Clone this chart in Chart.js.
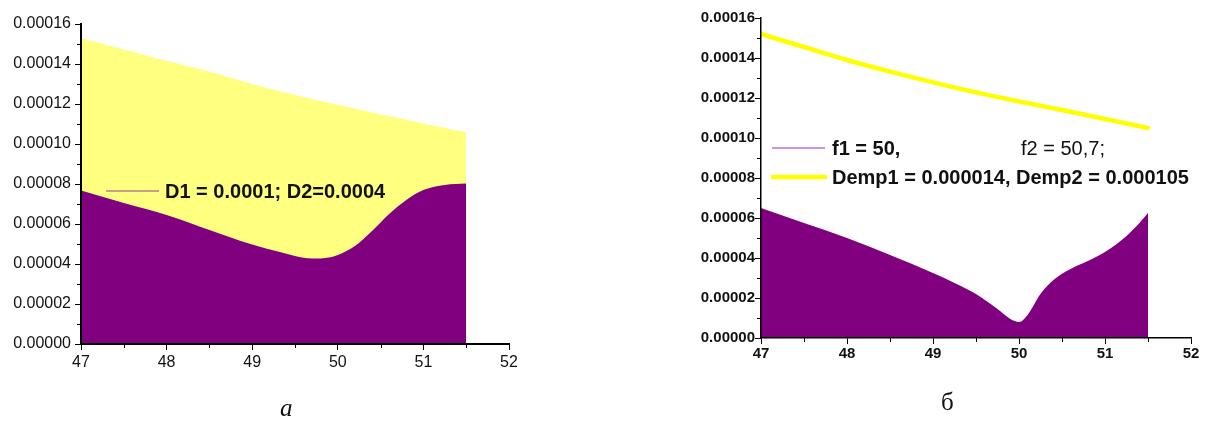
<!DOCTYPE html>
<html>
<head>
<meta charset="utf-8">
<script src="https://cdn.jsdelivr.net/npm/chart.js@4"></script>
<style>
  html, body { margin: 0; padding: 0; background: #ffffff; }
  body { width: 1213px; height: 421px; position: relative; overflow: hidden; }
  .panel { position: absolute; top: 0; height: 400px; }
  #wrapA { left: 0; width: 560px; }
  #wrapB { left: 600px; width: 613px; }
  .caption { position: absolute; font-family: "Liberation Serif", "DejaVu Serif", serif; font-size: 25px; color: #111; line-height: 1; }
  #capA { left: 280px; top: 395px; font-style: italic; }
  #capB { left: 941px; top: 389px; }
</style>
</head>
<body>
<div class="panel" id="wrapA"><canvas id="chartA" width="560" height="400"></canvas></div>
<div class="panel" id="wrapB"><canvas id="chartB" width="613" height="400"></canvas></div>
<div class="caption" id="capA">а</div>
<div class="caption" id="capB">б</div>
<script>
// ---- panel а : two filled profiles over the frequency range ----
const xA_upper = [47, 47.5, 48, 48.5, 49, 49.5, 50, 50.5, 51, 51.5];
const yA_upper = [0.0001530, 0.0001472, 0.0001416, 0.0001362, 0.0001300, 0.0001245, 0.0001196, 0.0001149, 0.0001103, 0.0001057];
const xA_lower = [47, 47.5, 48, 48.5, 49, 49.3, 49.5, 49.7, 49.9, 50.0, 50.2, 50.4, 50.6, 50.8, 51.0, 51.25, 51.5];
const yA_lower = [0.0000767, 0.0000705, 0.0000645, 0.0000570, 0.0000497, 0.0000462, 0.0000440, 0.0000427, 0.0000432, 0.0000445, 0.0000490, 0.0000565, 0.0000650, 0.0000720, 0.0000770, 0.0000795, 0.0000802];
const legendA = ["D1 = 0.0001; D2=0.0004"];

// ---- panel б : filled profile plus the Demp line ----
const xB_line = [47, 47.5, 48, 48.5, 49, 49.5, 50, 50.5, 51, 51.5];
const yB_line = [0.0001520, 0.0001455, 0.0001390, 0.0001332, 0.0001278, 0.0001228, 0.0001183, 0.0001140, 0.0001095, 0.0001050];
const xB_area = [47, 47.5, 48, 48.5, 49, 49.25, 49.5, 49.75, 49.9, 50.0, 50.1, 50.25, 50.4, 50.6, 50.8, 51.0, 51.25, 51.4, 51.5];
const yB_area = [0.0000650, 0.0000575, 0.0000500, 0.0000415, 0.0000325, 0.0000275, 0.0000220, 0.0000145, 0.0000095, 0.0000080, 0.0000115, 0.0000220, 0.0000290, 0.0000345, 0.0000385, 0.0000430, 0.0000510, 0.0000575, 0.0000625];
const legendB = ["f1 = 50,", "f2 = 50,7;", "Demp1 = 0.000014, Demp2 = 0.000105"];

// axis ranges and tick steps (shared by both panels)
const xRange = [47, 52];
const yRange = [0, 0.00016];
const xStep = 1;
const yStep = 0.00002;

const pts = (xs, ys) => xs.map((x, i) => ({ x: x, y: ys[i] }));

// short half-step ticks between the labelled ones
const minorTicks = {
  id: 'minorTicks',
  afterDraw(chart, args, opts) {
    const { ctx, chartArea: a, scales: { x, y } } = chart;
    ctx.save();
    ctx.strokeStyle = '#000';
    ctx.lineWidth = opts.width || 1;
    ctx.beginPath();
    for (let v = xRange[0] + xStep / 2; v < xRange[1]; v += xStep) {
      const px = Math.round(x.getPixelForValue(v)) + 0.5;
      ctx.moveTo(px, a.bottom);
      ctx.lineTo(px, a.bottom + opts.len);
    }
    for (let k = 0; k < 8; k++) {
      const v = yStep / 2 + k * yStep;
      const py = Math.round(y.getPixelForValue(v)) + 0.5;
      ctx.moveTo(a.left, py);
      ctx.lineTo(a.left - opts.len, py);
    }
    ctx.stroke();
    ctx.restore();
  }
};

// hand-placed legend inside the plot area
const innerLegend = {
  id: 'innerLegend',
  afterDraw(chart, args, opts) {
    const { ctx, chartArea: a } = chart;
    ctx.save();
    ctx.textBaseline = 'middle';
    ctx.textAlign = 'left';
    opts.items.forEach(it => {
      if (it.line) {
        ctx.strokeStyle = it.line.color;
        ctx.lineWidth = it.line.width;
        ctx.lineCap = it.line.cap || 'butt';
        ctx.beginPath();
        ctx.moveTo(a.left + it.line.x0, a.top + it.dy);
        ctx.lineTo(a.left + it.line.x1, a.top + it.dy);
        ctx.stroke();
      }
      ctx.fillStyle = '#111';
      ctx.font = it.font;
      ctx.fillText(it.text, a.left + it.dx, a.top + it.dy + 1);
    });
    ctx.restore();
  }
};

function axes(cfg) {
  return {
    x: {
      type: 'linear', min: xRange[0], max: xRange[1],
      afterFit: s => { s.height = cfg.xHeight; },
      afterBuildTicks: s => { s.ticks = []; for (let v = xRange[0]; v <= xRange[1]; v += xStep) s.ticks.push({ value: v }); },
      ticks: { color: '#111', font: cfg.tickFont, padding: cfg.xPad, maxRotation: 0, callback: v => String(v), z: 1 },
      grid: { display: true, drawOnChartArea: false, drawTicks: true, tickLength: 6, color: '#000', tickWidth: 1, z: 1 },
      border: { display: true, color: '#000', width: cfg.axisWidth, z: 2 }
    },
    y: {
      type: 'linear', min: yRange[0], max: yRange[1],
      afterFit: s => { s.width = cfg.yWidth; },
      afterBuildTicks: s => { s.ticks = []; for (let k = 0; k <= 8; k++) s.ticks.push({ value: k * yStep }); },
      ticks: { color: '#111', font: cfg.tickFont, padding: cfg.yPad, callback: v => v.toFixed(5), z: 1 },
      grid: { display: true, drawOnChartArea: false, drawTicks: true, tickLength: 6, color: '#000', tickWidth: 1, z: 1 },
      border: { display: true, color: '#000', width: cfg.axisWidth, z: 2 }
    }
  };
}

const common = {
  responsive: false,
  animation: false,
  events: [],
  elements: { point: { radius: 0 }, line: { cubicInterpolationMode: 'monotone' } },
};

new Chart(document.getElementById('chartA'), {
  type: 'line',
  data: {
    datasets: [
      { label: legendA[0], data: pts(xA_lower, yA_lower), fill: 'origin', backgroundColor: '#800080', borderWidth: 0, borderColor: '#800080' },
      { label: 'upper', data: pts(xA_upper, yA_upper), fill: 'origin', backgroundColor: '#ffff80', borderWidth: 0, borderColor: '#ffff80' }
    ]
  },
  options: Object.assign({}, common, {
    layout: { padding: { left: 0, top: 24, right: 51, bottom: 0 } },
    scales: axes({ xHeight: 56, yWidth: 81, xPad: 3, yPad: 4, axisWidth: 2,
                   tickFont: { family: '"Liberation Sans", Arial, sans-serif', size: 16 } }),
    plugins: {
      legend: { display: false }, tooltip: { enabled: false },
      minorTicks: { len: 4, width: 1 },
      innerLegend: { items: [
        { text: legendA[0], dx: 84, dy: 167, font: 'bold 20px "Liberation Sans", Arial, sans-serif',
          line: { x0: 25, x1: 78, color: '#b97f8c', width: 1.5 } }
      ] }
    }
  }),
  plugins: [minorTicks, innerLegend]
});

new Chart(document.getElementById('chartB'), {
  type: 'line',
  data: {
    datasets: [
      { label: legendB[2], data: pts(xB_line, yB_line), fill: false, borderColor: '#ffff00', borderWidth: 4.5, borderCapStyle: 'round' },
      { label: legendB[0], data: pts(xB_area, yB_area), fill: 'origin', backgroundColor: '#800080', borderWidth: 0, borderColor: '#800080' }
    ]
  },
  options: Object.assign({}, common, {
    layout: { padding: { left: 0, top: 18, right: 22, bottom: 0 } },
    scales: axes({ xHeight: 62, yWidth: 161, xPad: 1, yPad: 0, axisWidth: 1.5,
                   tickFont: { family: '"Liberation Sans", Arial, sans-serif', size: 15, weight: 'bold' } }),
    plugins: {
      legend: { display: false }, tooltip: { enabled: false },
      minorTicks: { len: 4, width: 1 },
      innerLegend: { items: [
        { text: legendB[0], dx: 71, dy: 130, font: 'bold 20px "Liberation Sans", Arial, sans-serif',
          line: { x0: 11, x1: 64, color: '#c070d0', width: 1.5 } },
        { text: legendB[1], dx: 260, dy: 130, font: '20px "Liberation Sans", Arial, sans-serif' },
        { text: legendB[2], dx: 71, dy: 159, font: 'bold 20px "Liberation Sans", Arial, sans-serif',
          line: { x0: 10, x1: 66, color: '#ffff00', width: 4.5 } }
      ] }
    }
  }),
  plugins: [minorTicks, innerLegend]
});
</script>
</body>
</html>
